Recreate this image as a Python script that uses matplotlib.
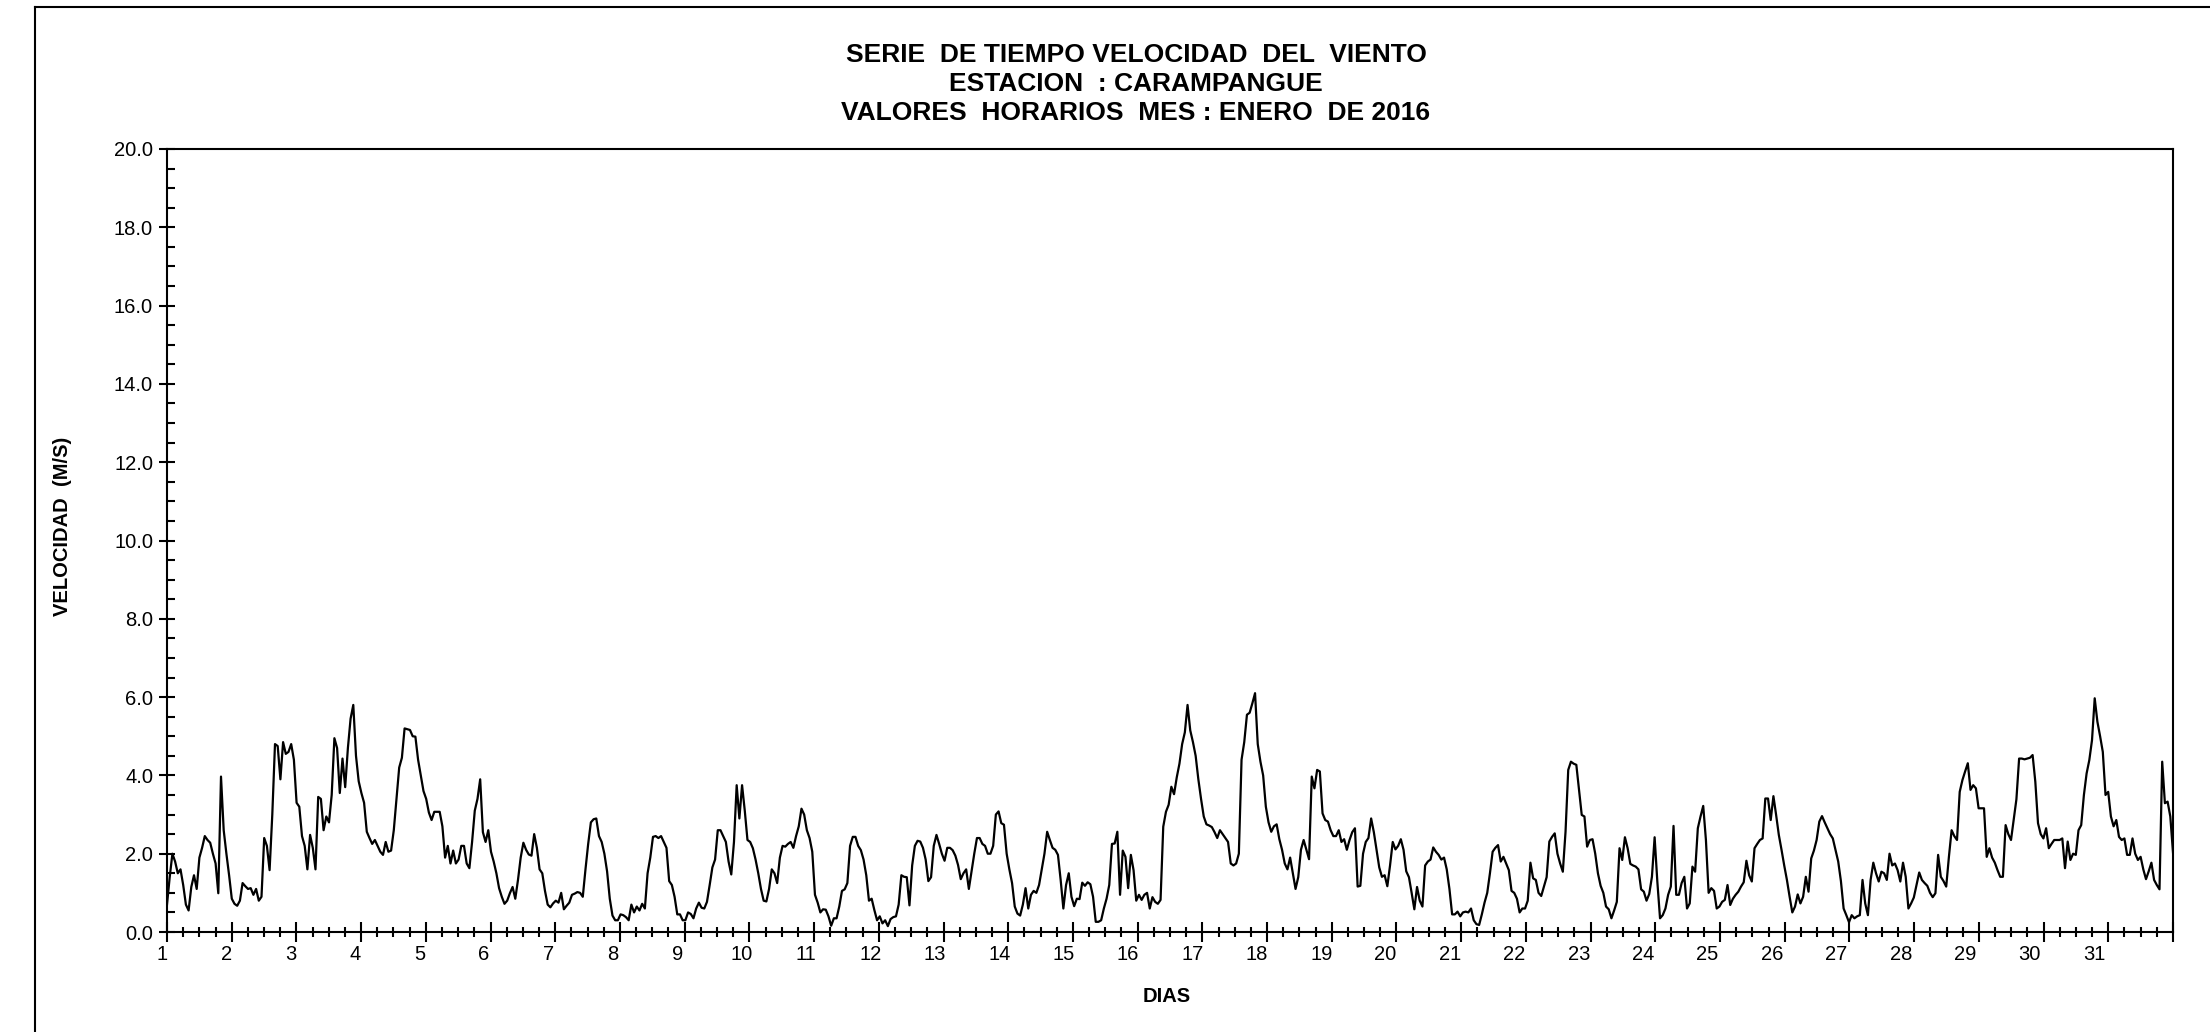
"""
plot.py
Serie de tiempo velocidad del viento - Carampangue, enero 2016 (valores horarios).
"""
import numpy as np
import matplotlib
matplotlib.use('Agg')
import matplotlib.pyplot as plt
from matplotlib.lines import Line2D
from matplotlib.ticker import MultipleLocator, FormatStrFormatter, FixedLocator, NullFormatter

plt.rcParams['font.family'] = ['Liberation Sans', 'DejaVu Sans']

# hourly wind speed (m/s), one list of 24 values per day
d01 = [0.7, 1.4, 2.0, 1.8, 1.5, 1.6, 1.2, 0.7, 0.55, 1.15, 1.45, 1.1, 1.9, 2.15, 2.45, 2.35, 2.28, 2.0, 1.75, 0.99, 3.97, 2.6, 2.0, 1.45]
d02 = [0.85, 0.72, 0.67, 0.8, 1.25, 1.17, 1.1, 1.12, 0.95, 1.1, 0.8, 0.9, 2.4, 2.2, 1.58, 3.0, 4.8, 4.75, 3.9, 4.85, 4.55, 4.6, 4.8, 4.4]
d03 = [3.3, 3.2, 2.45, 2.2, 1.6, 2.48, 2.15, 1.6, 3.45, 3.4, 2.6, 2.95, 2.8, 3.5, 4.95, 4.7, 3.55, 4.43, 3.7, 4.7, 5.45, 5.8, 4.5, 3.85]
d04 = [3.55, 3.3, 2.56, 2.4, 2.25, 2.35, 2.2, 2.05, 1.97, 2.3, 2.05, 2.08, 2.6, 3.4, 4.2, 4.45, 5.2, 5.18, 5.16, 5.0, 4.99, 4.4, 4.0, 3.6]
d05 = [3.4, 3.05, 2.86, 3.07, 3.07, 3.07, 2.7, 1.9, 2.2, 1.75, 2.08, 1.75, 1.85, 2.2, 2.2, 1.75, 1.63, 2.3, 3.1, 3.4, 3.9, 2.55, 2.3, 2.6]
d06 = [2.05, 1.8, 1.5, 1.12, 0.9, 0.72, 0.8, 0.99, 1.15, 0.85, 1.33, 1.9, 2.28, 2.1, 1.98, 1.95, 2.5, 2.15, 1.6, 1.5, 1.05, 0.7, 0.63, 0.73]
d07 = [0.8, 0.75, 1.0, 0.58, 0.67, 0.75, 0.95, 0.98, 1.02, 1.0, 0.9, 1.6, 2.25, 2.8, 2.88, 2.9, 2.45, 2.3, 2.0, 1.55, 0.85, 0.42, 0.3, 0.3]
d08 = [0.45, 0.43, 0.38, 0.3, 0.7, 0.5, 0.65, 0.55, 0.72, 0.6, 1.5, 1.9, 2.43, 2.45, 2.4, 2.45, 2.3, 2.15, 1.3, 1.2, 0.9, 0.45, 0.45, 0.3]
d09 = [0.3, 0.5, 0.46, 0.35, 0.6, 0.75, 0.62, 0.6, 0.77, 1.2, 1.65, 1.85, 2.6, 2.6, 2.45, 2.3, 1.8, 1.47, 2.3, 3.75, 2.9, 3.75, 3.1, 2.35]
d10 = [2.3, 2.14, 1.85, 1.5, 1.1, 0.8, 0.78, 1.1, 1.6, 1.5, 1.25, 1.9, 2.2, 2.18, 2.25, 2.3, 2.15, 2.45, 2.7, 3.15, 3.0, 2.6, 2.4, 2.05]
d11 = [0.95, 0.75, 0.5, 0.58, 0.57, 0.4, 0.16, 0.35, 0.35, 0.65, 1.05, 1.09, 1.25, 2.2, 2.43, 2.43, 2.2, 2.09, 1.85, 1.45, 0.8, 0.85, 0.56, 0.3]
d12 = [0.4, 0.22, 0.3, 0.15, 0.33, 0.38, 0.4, 0.7, 1.45, 1.41, 1.4, 0.68, 1.7, 2.2, 2.33, 2.31, 2.15, 1.85, 1.3, 1.4, 2.2, 2.48, 2.25, 2.0]
d13 = [1.82, 2.15, 2.15, 2.09, 1.95, 1.71, 1.35, 1.5, 1.6, 1.1, 1.55, 2.0, 2.4, 2.4, 2.25, 2.2, 2.0, 2.0, 2.2, 3.0, 3.08, 2.78, 2.74, 2.0]
d14 = [1.6, 1.25, 0.65, 0.47, 0.42, 0.7, 1.12, 0.6, 0.95, 1.05, 1.0, 1.2, 1.6, 2.0, 2.56, 2.35, 2.15, 2.1, 1.97, 1.33, 0.6, 1.2, 1.5, 0.9]
d15 = [0.66, 0.85, 0.84, 1.26, 1.18, 1.27, 1.22, 0.9, 0.26, 0.26, 0.3, 0.6, 0.85, 1.2, 2.25, 2.26, 2.56, 0.95, 2.08, 1.92, 1.12, 1.97, 1.58, 0.8]
d16 = [0.95, 0.82, 0.95, 1.0, 0.6, 0.89, 0.77, 0.72, 0.82, 2.69, 3.07, 3.25, 3.71, 3.52, 3.95, 4.3, 4.8, 5.1, 5.8, 5.15, 4.85, 4.5, 3.9, 3.4]
d17 = [2.95, 2.75, 2.72, 2.68, 2.55, 2.4, 2.6, 2.5, 2.4, 2.3, 1.75, 1.7, 1.75, 2.0, 4.4, 4.85, 5.55, 5.6, 5.84, 6.1, 4.8, 4.35, 4.0, 3.2]
d18 = [2.8, 2.56, 2.7, 2.75, 2.37, 2.1, 1.75, 1.6, 1.9, 1.5, 1.1, 1.4, 2.1, 2.35, 2.1, 1.86, 3.97, 3.67, 4.14, 4.1, 3.03, 2.86, 2.82, 2.6]
d19 = [2.45, 2.45, 2.6, 2.3, 2.37, 2.1, 2.35, 2.55, 2.65, 1.16, 1.18, 2.0, 2.3, 2.4, 2.9, 2.55, 2.1, 1.65, 1.41, 1.45, 1.17, 1.7, 2.3, 2.11]
d20 = [2.2, 2.37, 2.1, 1.55, 1.4, 1.0, 0.58, 1.15, 0.8, 0.65, 1.7, 1.8, 1.85, 2.16, 2.05, 1.97, 1.85, 1.9, 1.6, 1.1, 0.45, 0.45, 0.52, 0.4]
d21 = [0.5, 0.52, 0.5, 0.6, 0.3, 0.2, 0.18, 0.45, 0.75, 1.0, 1.5, 2.05, 2.15, 2.22, 1.8, 1.92, 1.75, 1.58, 1.05, 1.0, 0.85, 0.5, 0.6, 0.6]
d22 = [0.8, 1.77, 1.37, 1.33, 1.0, 0.92, 1.16, 1.4, 2.31, 2.43, 2.52, 2.0, 1.75, 1.54, 2.56, 4.14, 4.35, 4.3, 4.27, 3.63, 2.99, 2.95, 2.18, 2.35]
d23 = [2.37, 2.0, 1.5, 1.18, 1.0, 0.65, 0.58, 0.35, 0.55, 0.77, 2.14, 1.84, 2.42, 2.14, 1.74, 1.7, 1.67, 1.6, 1.09, 1.03, 0.8, 0.97, 1.41, 2.42]
d24 = [1.29, 0.35, 0.43, 0.6, 0.95, 1.16, 2.71, 0.95, 0.95, 1.25, 1.41, 0.6, 0.73, 1.67, 1.54, 2.65, 2.95, 3.22, 2.35, 1.0, 1.12, 1.05, 0.6, 0.65]
d25 = [0.77, 0.82, 1.2, 0.69, 0.85, 0.95, 1.03, 1.16, 1.27, 1.82, 1.45, 1.29, 2.14, 2.25, 2.35, 2.39, 3.41, 3.41, 2.86, 3.47, 2.99, 2.48, 2.1, 1.7]
d26 = [1.33, 0.9, 0.5, 0.65, 0.96, 0.73, 0.9, 1.41, 1.03, 1.88, 2.08, 2.35, 2.82, 2.96, 2.8, 2.65, 2.5, 2.39, 2.1, 1.8, 1.3, 0.6, 0.43, 0.25]
d27 = [0.43, 0.35, 0.4, 0.43, 1.33, 0.73, 0.43, 1.33, 1.77, 1.5, 1.29, 1.54, 1.5, 1.33, 2.0, 1.7, 1.75, 1.58, 1.29, 1.77, 1.41, 0.6, 0.73, 0.88]
d28 = [1.2, 1.52, 1.33, 1.25, 1.18, 1.0, 0.89, 0.99, 1.97, 1.41, 1.3, 1.16, 1.92, 2.6, 2.45, 2.35, 3.58, 3.88, 4.1, 4.31, 3.63, 3.75, 3.67, 3.16]
d29 = [3.16, 3.16, 1.92, 2.14, 1.9, 1.77, 1.58, 1.41, 1.41, 2.73, 2.5, 2.35, 2.86, 3.39, 4.43, 4.43, 4.41, 4.43, 4.45, 4.52, 3.84, 2.78, 2.5, 2.39]
d30 = [2.65, 2.14, 2.25, 2.35, 2.35, 2.35, 2.39, 1.63, 2.31, 1.84, 2.0, 1.97, 2.6, 2.73, 3.5, 4.05, 4.39, 4.9, 5.97, 5.37, 5.0, 4.6, 3.5, 3.58]
d31 = [2.95, 2.7, 2.86, 2.43, 2.35, 2.39, 1.97, 1.97, 2.39, 2.0, 1.84, 1.92, 1.6, 1.35, 1.55, 1.77, 1.33, 1.2, 1.09, 4.35, 3.29, 3.33, 2.95, 2.03]

days = [d01, d02, d03, d04, d05, d06, d07, d08, d09, d10, d11, d12, d13, d14, d15, d16,
        d17, d18, d19, d20, d21, d22, d23, d24, d25, d26, d27, d28, d29, d30, d31]
day_labels = [str(d) for d in range(1, 32)]
y_ticks = [0, 2, 4, 6, 8, 10, 12, 14, 16, 18, 20]

for d in days:
    assert len(d) == 24
speed = np.concatenate([np.array(d, dtype=float) for d in days])
x = np.linspace(1, 32, len(speed))

W, H = 2210, 1032
AX_L, AX_R, AX_T, AX_B = 167, 2173, 149, 932
fig = plt.figure(figsize=(W / 100, H / 100), dpi=100)
ax = fig.add_axes([AX_L / W, 1 - AX_B / H, (AX_R - AX_L) / W, (AX_B - AX_T) / H])

ax.plot(x, speed, color='black', linewidth=1.6)

ax.set_xlim(1, 32)
ax.set_ylim(0, 20)

ax.xaxis.set_major_locator(FixedLocator(range(1, 33)))
ax.xaxis.set_major_formatter(NullFormatter())
ax.xaxis.set_minor_locator(MultipleLocator(0.25))
ax.yaxis.set_major_locator(FixedLocator(y_ticks))
ax.yaxis.set_major_formatter(FormatStrFormatter('%.1f'))
ax.yaxis.set_minor_locator(MultipleLocator(0.5))

ax.tick_params(axis='x', which='major', direction='inout', length=14, width=1.5)
ax.tick_params(axis='x', which='minor', direction='inout', length=7, width=1.5)
ax.tick_params(axis='y', which='major', direction='inout', length=12, width=1.5,
               labelsize=14.5, pad=4)
ax.tick_params(axis='y', which='minor', direction='in', length=6, width=1.5)
for sp in ax.spines.values():
    sp.set_linewidth(1.5)

# day labels sit a little left of their ticks in the original, drifting slightly
day_w = (AX_R - AX_L) / 31
for i, lab in enumerate(day_labels):
    px = 162 + i * 64.4
    ax.text(1 + (px - AX_L) / day_w, (AX_B - 954) / (AX_B - AX_T), lab,
            transform=ax.get_xaxis_transform(), ha='center', va='center', fontsize=14.5)

fig.text(1136 / W, 1 - 84 / H,
         'SERIE  DE TIEMPO VELOCIDAD  DEL  VIENTO\nESTACION  : CARAMPANGUE\n'
         'VALORES  HORARIOS  MES : ENERO  DE 2016',
         ha='center', va='center', fontsize=19, fontweight='bold', linespacing=1.24)
fig.text(62 / W, 1 - 526 / H, 'VELOCIDAD  (M/S)', rotation=90, ha='center', va='center',
         fontsize=14.5, fontweight='bold')
fig.text(1167 / W, 1 - 996 / H, 'DIAS', ha='center', va='center',
         fontsize=14.5, fontweight='bold')

# outer frame (only left and top edges fall inside the image)
fig.add_artist(Line2D([35 / W, 35 / W], [0, 1 - 7 / H], color='black', linewidth=1.5,
                      transform=fig.transFigure))
fig.add_artist(Line2D([35 / W, 1], [1 - 7 / H, 1 - 7 / H], color='black', linewidth=1.5,
                      transform=fig.transFigure))

fig.savefig('out.png', dpi=100)
